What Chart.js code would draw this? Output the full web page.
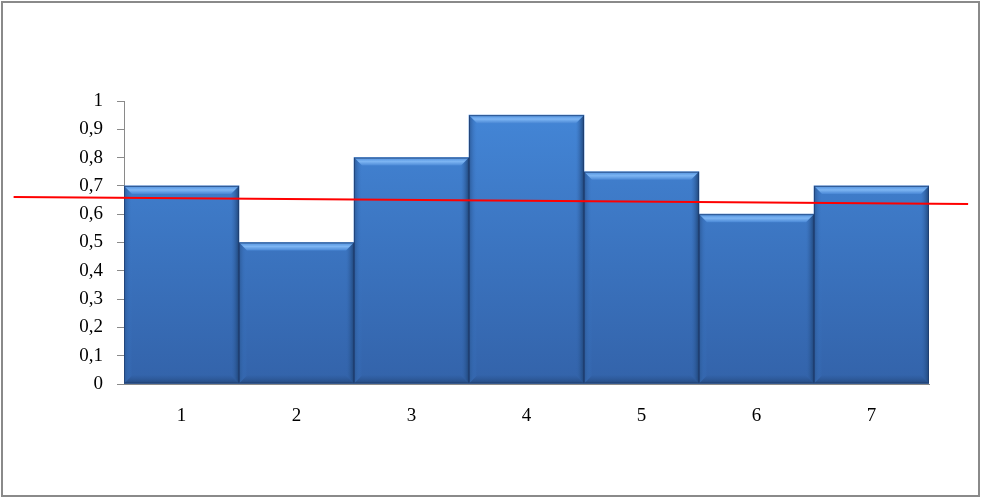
<!DOCTYPE html>
<html>
<head>
<meta charset="utf-8">
<script src="https://cdn.jsdelivr.net/npm/chart.js@4.4.1/dist/chart.umd.min.js"></script>
<style>
  html, body { margin: 0; padding: 0; background: #fff; }
  #wrap { position: relative; width: 981px; height: 498px; }
  #frame { position: absolute; left: 1px; top: 1px; width: 979px; height: 496px;
           box-sizing: border-box; border: 2px solid #8a8a8a; pointer-events: none; }
</style>
</head>
<body>
<div id="wrap">
  <canvas id="chart" width="981" height="498"></canvas>
  <div id="frame"></div>
</div>
<script>
// valores
const categories = ['1', '2', '3', '4', '5', '6', '7'];
const values = [0.7, 0.5, 0.8, 0.95, 0.75, 0.6, 0.7];
// linha vermelha (passa além da área do gráfico)
const trendX = [-1.46, 6.84];
const trendY = [0.661, 0.636];
const yTicks = [0, 0.1, 0.2, 0.3, 0.4, 0.5, 0.6, 0.7, 0.8, 0.9, 1];

const fmtComma = v => String(Math.round(v * 10) / 10).replace('.', ',');

// chanfro estilo Excel nas barras
const bevelPlugin = {
  id: 'bevel',
  afterDatasetDraw(chart, args) {
    if (args.index !== 0) return;
    const ctx = chart.ctx;
    const b = 8;
    args.meta.data.forEach(bar => {
      const p = bar.getProps(['x', 'y', 'base', 'width'], true);
      const l = p.x - p.width / 2, r = p.x + p.width / 2;
      const t = p.y, bt = p.base;
      ctx.save();
      // topo
      let g = ctx.createLinearGradient(0, t, 0, t + b);
      g.addColorStop(0, '#4f8fdc');
      g.addColorStop(0.5, '#7db5f3');
      g.addColorStop(1, '#4a88d6');
      ctx.fillStyle = g;
      ctx.beginPath();
      ctx.moveTo(l, t); ctx.lineTo(r, t); ctx.lineTo(r - b, t + b); ctx.lineTo(l + b, t + b);
      ctx.closePath(); ctx.fill();
      // esquerda
      g = ctx.createLinearGradient(l, 0, l + b, 0);
      g.addColorStop(0, '#2c5a98');
      g.addColorStop(1, 'rgba(60,120,200,0)');
      ctx.fillStyle = g;
      ctx.beginPath();
      ctx.moveTo(l, t); ctx.lineTo(l + b, t + b); ctx.lineTo(l + b, bt - b); ctx.lineTo(l, bt);
      ctx.closePath(); ctx.fill();
      // direita
      g = ctx.createLinearGradient(r, 0, r - b, 0);
      g.addColorStop(0, '#1f4577');
      g.addColorStop(1, 'rgba(50,100,170,0)');
      ctx.fillStyle = g;
      ctx.beginPath();
      ctx.moveTo(r, t); ctx.lineTo(r - b, t + b); ctx.lineTo(r - b, bt - b); ctx.lineTo(r, bt);
      ctx.closePath(); ctx.fill();
      // base
      g = ctx.createLinearGradient(0, bt, 0, bt - b);
      g.addColorStop(0, '#24487c');
      g.addColorStop(1, 'rgba(45,90,155,0.2)');
      ctx.fillStyle = g;
      ctx.beginPath();
      ctx.moveTo(l, bt); ctx.lineTo(r, bt); ctx.lineTo(r - b, bt - b); ctx.lineTo(l + b, bt - b);
      ctx.closePath(); ctx.fill();
      // contorno
      ctx.strokeStyle = 'rgba(30,60,110,0.7)';
      ctx.lineWidth = 1;
      ctx.strokeRect(l + 0.5, t + 0.5, p.width - 1, bt - t - 1);
      ctx.restore();
    });
  }
};

const el = document.getElementById('chart');
new Chart(el, {
  type: 'bar',
  data: {
    labels: categories,
    datasets: [
      {
        type: 'bar',
        data: values,
        order: 2,
        grouped: false,
        categoryPercentage: 1,
        barPercentage: 1,
        borderWidth: 0,
        backgroundColor: (c) => {
          const area = c.chart.chartArea;
          if (!area) return '#3f7fd0';
          const g = c.chart.ctx.createLinearGradient(0, area.top, 0, area.bottom);
          g.addColorStop(0, '#4487d8');
          g.addColorStop(1, '#3363aa');
          return g;
        }
      },
      {
        type: 'line',
        xAxisID: 'xt',
        data: trendX.map((x, i) => ({ x, y: trendY[i] })),
        order: 1,
        borderColor: '#ff0000',
        borderWidth: 2,
        pointRadius: 0,
        clip: false
      }
    ]
  },
  options: {
    responsive: false,
    animation: false,
    devicePixelRatio: 1,
    layout: { padding: { left: 0, right: 52, top: 101, bottom: 54 } },
    plugins: { legend: { display: false }, tooltip: { enabled: false } },
    scales: {
      x: {
        type: 'category',
        grid: { display: false, drawTicks: false },
        border: { display: true, color: '#8a8a8a', width: 1 },
        ticks: { color: '#000', padding: 21, font: { family: 'Liberation Serif', size: 19 } },
        afterFit: s => { s.height = 60; }
      },
      xt: {
        type: 'linear',
        display: false,
        offset: false,
        grid: { offset: false },
        min: -0.5,
        max: 6.5
      },
      y: {
        min: 0,
        max: 1,
        afterBuildTicks: s => { s.ticks = yTicks.map(v => ({ value: v })); },
        grid: { drawOnChartArea: false, drawTicks: true, tickLength: 7, color: '#8a8a8a' },
        border: { display: true, color: '#8a8a8a', width: 1 },
        ticks: {
          color: '#000',
          padding: 14,
          font: { family: 'Liberation Serif', size: 19 },
          callback: v => fmtComma(v)
        },
        afterFit: s => { s.width = 124; }
      }
    }
  },
  plugins: [bevelPlugin]
});
</script>
</body>
</html>
